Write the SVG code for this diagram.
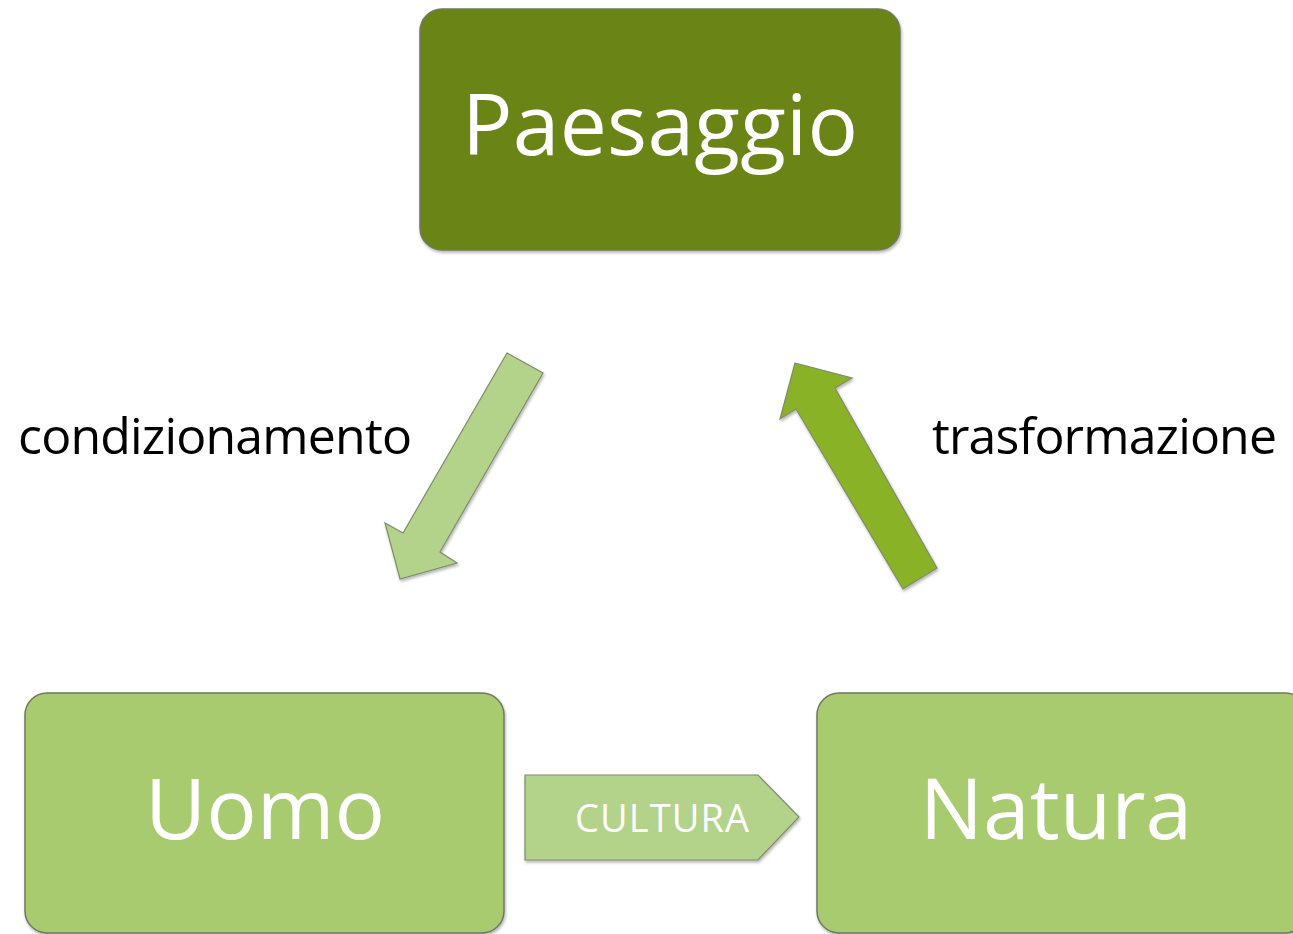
<svg xmlns="http://www.w3.org/2000/svg" width="1293" height="934" viewBox="0 0 1293 934">
<style>
.box{stroke:#6f7a60;stroke-width:1.5;filter:url(#sh)}
.big{font-family:"Open Sans","Liberation Sans",sans-serif;font-size:84px;fill:#ffffff;text-anchor:middle}
.lbl{font-family:"Open Sans","Liberation Sans",sans-serif;font-size:50px;fill:#000000}
.arr{stroke:#7f8c6a;stroke-width:1.2;filter:url(#sh)}
</style>
<defs>
<filter id="sh" x="-10%" y="-10%" width="120%" height="120%">
<feDropShadow dx="1" dy="2" stdDeviation="1.5" flood-color="#000" flood-opacity="0.3"/>
</filter>
</defs>
<rect width="1293" height="934" fill="#ffffff"/>
<g id="paesaggio">
<rect class="box" x="420" y="9" width="480" height="241" rx="22" fill="#6b8419"/>
<text class="big" x="660" y="155" textLength="396">Paesaggio</text>
</g>
<g id="uomo">
<rect class="box" x="25" y="693" width="479" height="240" rx="22" fill="#a9cb70"/>
<text class="big" x="265" y="839">Uomo</text>
</g>
<g id="natura">
<rect class="box" x="817" y="693" width="490" height="240" rx="22" fill="#a9cb70"/>
<text class="big" x="1056" y="839">Natura</text>
</g>
<g id="connectors">
<path class="arr" d="M507,353 L543,373 L440,552 L457,563 L400,579 L385,523 L403,533 Z" fill="#b3d38a"/>
<path class="arr" d="M795,363 L852,378 L835,388 L937,568 L903,589 L796,409 L780,419 Z" fill="#8ab227"/>
<g id="cultura">
<path class="arr" d="M525,775 L758,775 L799,817 L758,860 L525,860 Z" fill="#b3d38a"/>
<text x="662" y="832" font-family="'Open Sans','Liberation Sans',sans-serif" font-size="38" fill="#ffffff" text-anchor="middle" textLength="174">CULTURA</text>
</g>
</g>
<text class="lbl" x="18" y="454" textLength="394">condizionamento</text>
<text class="lbl" x="932" y="454" textLength="345">trasformazione</text>
</svg>
